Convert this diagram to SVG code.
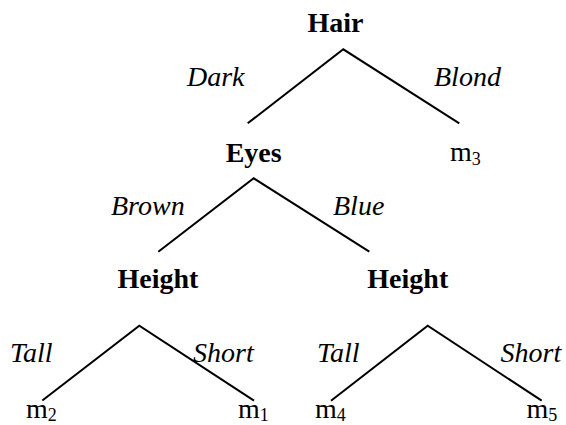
<svg xmlns="http://www.w3.org/2000/svg" width="566" height="425" viewBox="0 0 566 425">
<style>
text{font-family:'Liberation Serif','Times New Roman',Tinos,'DejaVu Serif',serif;fill:#000}
.node{font-weight:bold;font-size:28px;text-anchor:middle}
.leaf{font-size:28px}
.sub{font-size:18px}
.lbl{font-style:italic;font-size:28px}
.edge{fill:none;stroke:#000;stroke-width:2}
</style>
<rect width="566" height="425" fill="#fff"/>
<g id="connectors">
<polyline class="edge" points="247.7,123.3 343.3,49.3 459.3,123.3"/>
<polyline class="edge" points="158.3,251.7 253.7,178.3 369.3,251.7"/>
<polyline class="edge" points="42.3,400.5 139.3,325.7 254,400.7"/>
<polyline class="edge" points="331,400.7 427.7,325.7 541.7,400.7"/>
<text class="lbl" x="187" y="86">Dark</text>
<text class="lbl" x="434" y="86">Blond</text>
<text class="lbl" x="111" y="215">Brown</text>
<text class="lbl" x="333" y="215">Blue</text>
<text class="lbl" x="10" y="362">Tall</text>
<text class="lbl" x="193" y="362">Short</text>
<text class="lbl" x="317" y="362">Tall</text>
<text class="lbl" x="500.5" y="362">Short</text>
</g>
<g id="hair"><text class="node" x="335.5" y="32">Hair</text></g>
<g id="eyes"><text class="node" x="253.7" y="162">Eyes</text></g>
<g id="m3"><text class="leaf" x="450" y="161">m<tspan class="sub" dy="4">3</tspan></text></g>
<g id="height1"><text class="node" x="158" y="288">Height</text></g>
<g id="height2"><text class="node" x="407.8" y="288">Height</text></g>
<g id="m2"><text class="leaf" x="26" y="418">m<tspan class="sub" dy="3">2</tspan></text></g>
<g id="m1"><text class="leaf" x="238" y="418">m<tspan class="sub" dy="3">1</tspan></text></g>
<g id="m4"><text class="leaf" x="315" y="418">m<tspan class="sub" dy="3">4</tspan></text></g>
<g id="m5"><text class="leaf" x="526.5" y="418">m<tspan class="sub" dy="3">5</tspan></text></g>
</svg>
